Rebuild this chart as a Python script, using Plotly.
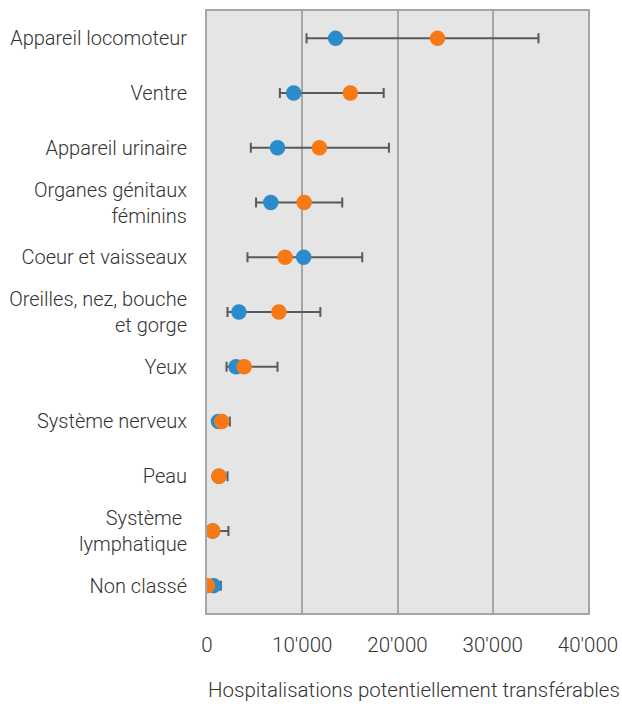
import plotly.graph_objects as go

categories = [
    "Appareil locomoteur",
    "Ventre",
    "Appareil urinaire",
    "Organes génitaux<br>féminins",
    "Coeur et vaisseaux",
    "Oreilles, nez, bouche<br>et gorge",
    "Yeux",
    "Système nerveux",
    "Peau",
    "Système <br>lymphatique",
    "Non classé",
]
series_blue = [13500, 9100, 7400, 6700, 10150, 3350, 3050, 1200, 1250, 600, 700]
series_orange = [24200, 15050, 11800, 10200, 8200, 7550, 3900, 1550, 1250, 600, 50]
range_low = [10450, 7650, 4600, 5150, 4250, 2150, 2050, 1000, 1000, 500, 600]
range_high = [34800, 18550, 19100, 14200, 16300, 11900, 7400, 2400, 2150, 2250, 1450]
x_ticks = [0, 10000, 20000, 30000, 40000]
x_tick_labels = ["0", "10'000", "20'000", "30'000", "40'000"]
x_title = "Hospitalisations potentiellement transférables"

err_plus = [h - b for h, b in zip(range_high, series_blue)]
err_minus = [b - l for b, l in zip(series_blue, range_low)]

BLUE = "#2a8cca"
ORANGE = "#f77914"
GRID = "#a6a6a6"
TEXT = "#333333"

fig = go.Figure()
fig.add_trace(go.Scatter(
    x=series_blue, y=categories, mode="markers",
    marker=dict(color=BLUE, size=15.5, line=dict(width=0)),
    error_x=dict(type="data", symmetric=False, array=err_plus, arrayminus=err_minus,
                 color="#595959", thickness=2, width=5),
    name="Série 1", showlegend=False,
))
fig.add_trace(go.Scatter(
    x=series_orange, y=categories, mode="markers",
    marker=dict(color=ORANGE, size=15.5, line=dict(width=0)),
    name="Série 2", showlegend=False,
))

fig.update_layout(
    width=622, height=704,
    margin=dict(l=207, r=34, t=11, b=91, autoexpand=False),
    paper_bgcolor="white",
    plot_bgcolor="#e5e5e5",
    font=dict(family="Roboto", size=20, color=TEXT, weight=300),
    showlegend=False,
)
fig.add_annotation(
    text=x_title, xref="paper", yref="paper", x=0.5446, y=0, yshift=-77,
    xanchor="center", yanchor="middle", showarrow=False,
    font=dict(size=20.5, weight=300, color=TEXT),
)
fig.update_xaxes(
    range=[0, 40000], tickvals=x_ticks, ticktext=x_tick_labels,
    automargin=False,
    showgrid=True, gridcolor=GRID, gridwidth=2,
    zeroline=False, showline=True, linecolor=GRID, linewidth=2, mirror=True,
    ticks="outside", ticklen=12, tickcolor="rgba(0,0,0,0)",
    tickfont=dict(size=20.5, weight=300, color=TEXT),
)
fig.update_yaxes(
    categoryorder="array", categoryarray=categories[::-1],
    range=[-0.5, len(categories) - 0.5],
    automargin=False,
    showgrid=False, zeroline=False, showline=True, linecolor=GRID, linewidth=2, mirror=True,
    ticks="outside", ticklen=14, tickcolor="rgba(0,0,0,0)",
    tickfont=dict(size=20, weight=300, color=TEXT),
)

fig.write_html("out.html", config={"displayModeBar": False},
               post_script="document.body.style.margin='0px';")
